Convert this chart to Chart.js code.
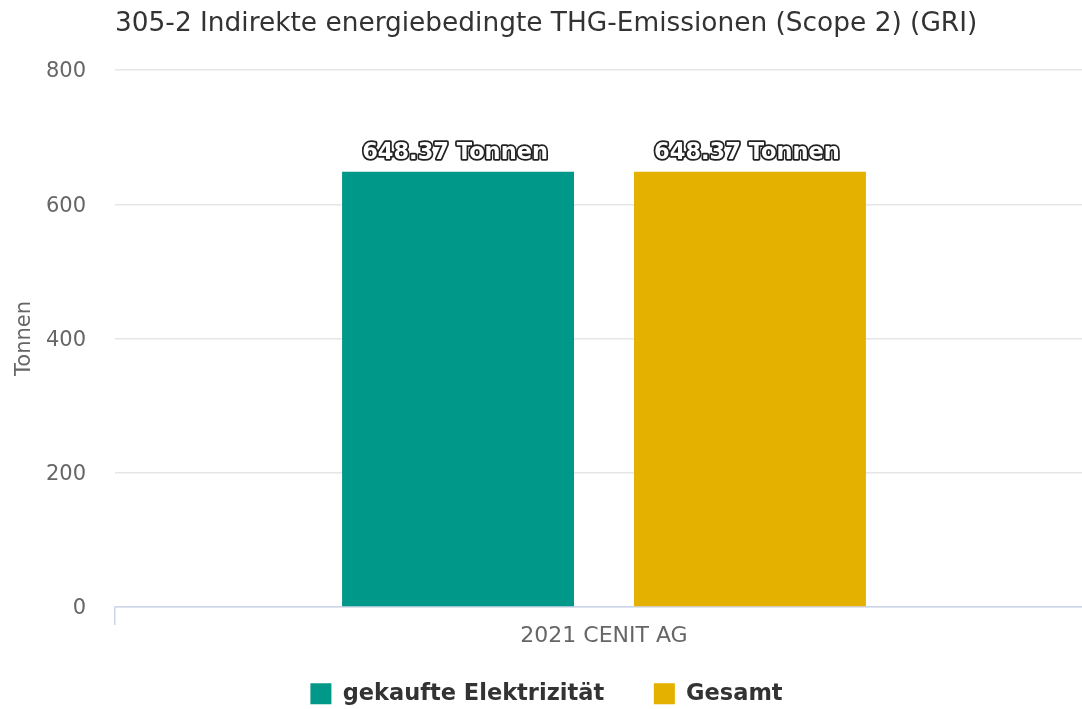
<!DOCTYPE html>
<html>
<head>
<meta charset="utf-8">
<script src="https://cdn.jsdelivr.net/npm/chart.js@4/dist/chart.umd.min.js"></script>
<style>
  html, body { margin: 0; padding: 0; background: #ffffff; overflow: hidden; width: 1082px; height: 709px; }
  #wrap { width: 1093px; height: 709px; position: relative; }
</style>
</head>
<body>
<div id="wrap"><canvas id="c"></canvas></div>
<script>
const chartTitle = '305-2 Indirekte energiebedingte THG-Emissionen (Scope 2) (GRI)';
const categories = ['2021 CENIT AG'];
const seriesNames = ['gekaufte Elektrizität', 'Gesamt'];
const gekaufteElektrizitaet = [648.37];
const gesamt = [648.37];
const yTickValues = [0, 200, 400, 600, 800];
const yAxisTitle = 'Tonnen';
const unit = 'Tonnen';

const FONT = "'DejaVu Sans', 'Liberation Sans', sans-serif";
Chart.defaults.font.family = FONT;

const valueLabels = {
  id: 'valueLabels',
  afterDatasetsDraw(chart) {
    const ctx = chart.ctx;
    ctx.save();
    ctx.font = 'bold 22.5px ' + FONT;
    ctx.textAlign = 'center';
    ctx.textBaseline = 'middle';
    ctx.lineJoin = 'round';
    chart.data.datasets.forEach((ds, i) => {
      chart.getDatasetMeta(i).data.forEach((bar, j) => {
        const text = ds.data[j].toFixed(2) + ' ' + unit;
        const x = bar.x - 3;
        const y = bar.y - 19;
        ctx.lineWidth = 3.5;
        ctx.strokeStyle = '#222222';
        ctx.strokeText(text, x, y);
        ctx.fillStyle = '#ffffff';
        ctx.fillText(text, x, y);
      });
    });
    ctx.restore();
  }
};

new Chart(document.getElementById('c'), {
  type: 'bar',
  data: {
    labels: categories,
    datasets: [
      { label: seriesNames[0], data: gekaufteElektrizitaet, backgroundColor: '#009889', borderWidth: 0 },
      { label: seriesNames[1], data: gesamt, backgroundColor: '#e5b100', borderWidth: 0 }
    ]
  },
  options: {
    responsive: true,
    maintainAspectRatio: false,
    animation: false,
    layout: { padding: { left: 0, right: 0, top: 0, bottom: -6 } },
    datasets: { bar: { categoryPercentage: 0.597, barPercentage: 0.7945 } },
    plugins: {
      tooltip: { enabled: false },
      title: {
        display: true,
        text: chartTitle,
        align: 'start',
        fullSize: false,
        color: '#333333',
        font: { size: 26.4, weight: 'normal', lineHeight: 1.2 },
        padding: { top: 8.5, bottom: 29.82 }
      },
      legend: {
        position: 'bottom',
        labels: {
          boxWidth: 21,
          boxHeight: 21,
          padding: 34,
          color: '#333333',
          font: { size: 22.5, weight: 'bold' },
          generateLabels: (chart) => Chart.defaults.plugins.legend.labels.generateLabels(chart)
            .map((item, i, all) => Object.assign(item, { text: i < all.length - 1 ? item.text + '\u00A0\u00A0' : item.text }))
        }
      }
    },
    scales: {
      x: {
        grid: {
          offset: true,
          drawOnChartArea: false,
          tickLength: 18,
          lineWidth: 1.5,
          color: (c) => c.index === 0 ? '#ccd6eb' : 'rgba(0,0,0,0)'
        },
        border: { color: '#ccd6eb', width: 1.5 },
        ticks: { color: '#666666', font: { size: 22, lineHeight: 1.0 }, padding: 0 },
        afterFit: (s) => { s.height = 41.5; }
      },
      y: {
        min: 0,
        max: 800,
        afterBuildTicks: (s) => { s.ticks = yTickValues.map(v => ({ value: v })); },
        grid: { color: '#e6e6e6', lineWidth: 1.5, drawTicks: false },
        border: { display: false },
        ticks: { color: '#666666', font: { size: 21 }, padding: 29, labelOffset: 2 },
        title: {
          display: true,
          text: yAxisTitle,
          color: '#666666',
          font: { size: 21, lineHeight: 1.2 },
          padding: { top: 12, bottom: 0 }
        },
        afterFit: (s) => { s.width = 115; }
      }
    }
  },
  plugins: [valueLabels]
});
</script>
</body>
</html>
